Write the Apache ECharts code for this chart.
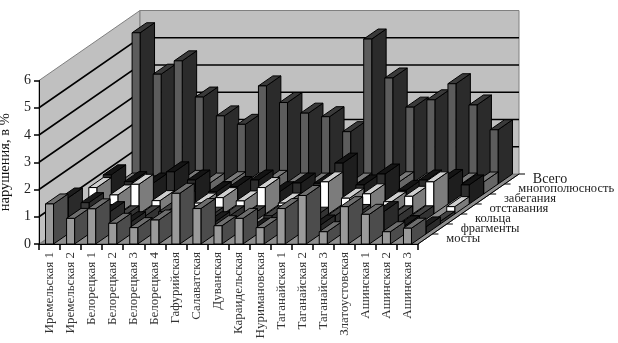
<!DOCTYPE html>
<html><head><meta charset="utf-8">
<style>html,body{margin:0;padding:0;background:#fff}#c{width:618px;height:343px}</style>
<script src="https://cdn.jsdelivr.net/npm/echarts@6/dist/echarts.min.js"></script>
</head><body><div id="c"></div>
<script>
const categories = ["Иремельская 1","Иремельская 2","Белорецкая 1","Белорецкая 2","Белорецкая 3","Белорецкая 4","Гафурийская","Салаватская","Дуванская","Караидельская","Нуримановская","Таганайская 1","Таганайская 2","Таганайская 3","Златоустовская","Ашинская 1","Ашинская 2","Ашинская 3"];
const rowNames = ["мосты","фрагменты","кольца","отставания","забегания","многополюсность","Всего"];
const yTicks = [0,1,2,3,4,5,6];
const mosty = [1.47,0.94,1.29,0.76,0.6,0.88,1.86,1.3,0.67,0.94,0.6,1.3,1.78,0.45,1.37,1.09,0.45,0.58];
const fragmenty = [1.32,1.15,0.82,0.45,0.33,0.3,0.4,0.45,0.4,0.22,0.3,0.5,0.33,0.3,0.4,0.82,0.3,0.26];
const koltsa = [0.3,0.35,0.3,0.3,0.45,0.3,0.25,0.3,0.3,0.3,0.3,0.25,0.3,0.35,0.3,0.3,0.3,0.1];
const otstavaniya = [0.97,0.7,1.09,0.49,0.5,0.4,0.6,0.48,0.97,0.4,0.4,1.18,0.58,0.74,0.45,0.65,1.18,0.27];
const zabeganiya = [1.07,0.82,0.77,1.18,0.88,0.45,0.64,0.88,0.45,0.77,0.76,1.5,0.7,1.1,0.5,0.88,0.9,0.7];
const mnogopolyusnost = [0.4,0.3,0.4,0.5,0.4,0.45,0.4,0.5,0.4,0.4,0.3,0.4,0.4,0.45,0.4,0.4,0.4,0.44];
const vsego = [5.55,4.03,4.52,3.19,2.5,2.19,3.6,2.99,2.6,2.47,1.92,5.32,3.89,2.82,3.09,3.68,2.9,1.99];

const rows = [mosty,fragmenty,koltsa,otstavaniya,zabeganiya,mnogopolyusnost,vsego];
const palettes = [
  {front:'#9a9a9a',side:'#4c4c4c',top:'#6e6e6e'},
  {front:'#3a3a3a',side:'#2a2a2a',top:'#1c1c1c'},
  {front:'#4a4a4a',side:'#333333',top:'#444444'},
  {front:'#ffffff',side:'#7c7c7c',top:'#cfcfcf'},
  {front:'#2e2e2e',side:'#1e1e1e',top:'#141414'},
  {front:'#888888',side:'#666666',top:'#7a7a7a'},
  {front:'#5c5c5c',side:'#2b2b2b',top:'#3a3a3a'}
];
const DX = 14.43, DY = 10, N = rowNames.length, BAR = 0.38;
const LINE = {stroke:'#000',lineWidth:1};

function poly(points, fill, stroke, lw){
  return {type:'polygon',shape:{points},style:{fill,stroke:stroke||'#000',lineWidth:lw===undefined?1:lw}};
}
function barItem(k){
  return function(params, api){
    const i = api.value(0), v = api.value(1);
    const band = api.size([1,0])[0], w = band*BAR;
    const t = api.coord([i,v]), b = api.coord([i,0]);
    const ox = DX*k, oy = -DY*k;
    const x0 = t[0]-w/2+ox, x1 = x0+w, yt = t[1]+oy, yb = b[1]+oy;
    const p = palettes[k];
    return {type:'group',children:[
      poly([[x1,yb],[x1+DX,yb-DY],[x1+DX,yt-DY],[x1,yt]],p.side),
      poly([[x0,yt],[x1,yt],[x1+DX,yt-DY],[x0+DX,yt-DY]],p.top),
      poly([[x0,yb],[x1,yb],[x1,yt],[x0,yt]],p.front)
    ]};
  };
}
function ends(api){
  const band = api.size([1,0])[0];
  const l = api.coord([0,0])[0]-band/2, r = api.coord([categories.length-1,0])[0]+band/2;
  return {l,r};
}
function wallsItem(params, api){
  const {l,r} = ends(api);
  const y0 = api.coord([0,0])[1], y6 = api.coord([0,6])[1];
  const bx = DX*N, by = DY*N;
  return {type:'group',children:[
    poly([[l,y0],[r,y0],[r+bx,y0-by],[l+bx,y0-by]],'#8e8e8e','#555',1),
    poly([[l,y0],[l+bx,y0-by],[l+bx,y6-by],[l,y6]],'#c0c0c0','#808080',1),
    poly([[l+bx,y0-by],[r+bx,y0-by],[r+bx,y6-by],[l+bx,y6-by]],'#c0c0c0','#808080',1)
  ]};
}
function gridItem(params, api){
  const {l,r} = ends(api);
  const v = api.value(0), y = api.coord([0,v])[1];
  const bx = DX*N, by = DY*N;
  if (v===0 || v===6) return {type:'group',children:[]};
  return {type:'group',children:[
    {type:'polyline',shape:{points:[[l,y],[l+bx,y-by],[r+bx,y-by]]},style:{fill:null,stroke:'#000',lineWidth:1.6}}
  ]};
}
function depthAxisItem(params, api){
  const {r} = ends(api);
  const y0 = api.coord([0,0])[1];
  const k = params.dataIndex;
  const children = [];
  if (k===0) children.push({type:'line',shape:{x1:r,y1:y0,x2:r+DX*N,y2:y0-DY*N},style:LINE});
  const tx = r+DX*(k+1), ty = y0-DY*(k+1);
  children.push({type:'line',shape:{x1:tx,y1:ty,x2:tx+6,y2:ty},style:LINE});
  children.push({type:'text',style:{
    text:rowNames[k],x:r+DX*(k+.5)+21,y:y0-DY*(k+.5),
    textAlign:'left',textVerticalAlign:'middle',
    font:(k===6?'14px':'12.5px')+' "Liberation Serif"',fill:'#222'}});
  return {type:'group',children};
}

const series = [
  {type:'custom',name:'стены',z:1,silent:true,data:[[0,0]],renderItem:wallsItem,encode:{x:0,y:1}},
  {type:'custom',name:'сетка',z:2,silent:true,data:yTicks.map(v=>[v]),renderItem:gridItem},
  {type:'custom',name:'ось рядов',z:2,silent:true,data:rowNames.map((n,k)=>[k]),renderItem:depthAxisItem}
];
for (let k=N-1;k>=0;k--){
  series.push({type:'custom',name:rowNames[k],z:3+(N-k),silent:true,
    data:rows[k].map((v,i)=>[i,v]),renderItem:barItem(k),encode:{x:0,y:1}});
}
const chart = echarts.init(document.getElementById('c'),null,{renderer:'canvas'});
chart.setOption({
  animation:false,
  backgroundColor:'#fff',
  grid:{left:39,right:200,top:80.5,bottom:99,containLabel:false,outerBoundsMode:'none'},
  xAxis:{type:'category',data:categories,boundaryGap:true,z:20,
    axisLine:{show:true,lineStyle:{color:'#000',width:1}},
    axisTick:{show:true,length:6,lineStyle:{color:'#000',width:1.5}},
    axisLabel:{interval:0,rotate:90,margin:8,fontFamily:'Liberation Serif',fontSize:13,color:'#333'}},
  yAxis:{type:'value',min:0,max:6,interval:1,z:20,
    name:'нарушения, в %',nameLocation:'middle',nameGap:22,nameRotate:90,
    nameTextStyle:{fontFamily:'Liberation Serif',fontSize:14.5,color:'#111'},
    axisLine:{show:true,lineStyle:{color:'#000',width:1}},
    axisTick:{show:true,length:5,lineStyle:{color:'#000',width:1.5}},
    splitLine:{show:false},
    axisLabel:{margin:8,fontFamily:'Liberation Serif',fontSize:14,color:'#222'}},
  series
});
</script></body></html>
